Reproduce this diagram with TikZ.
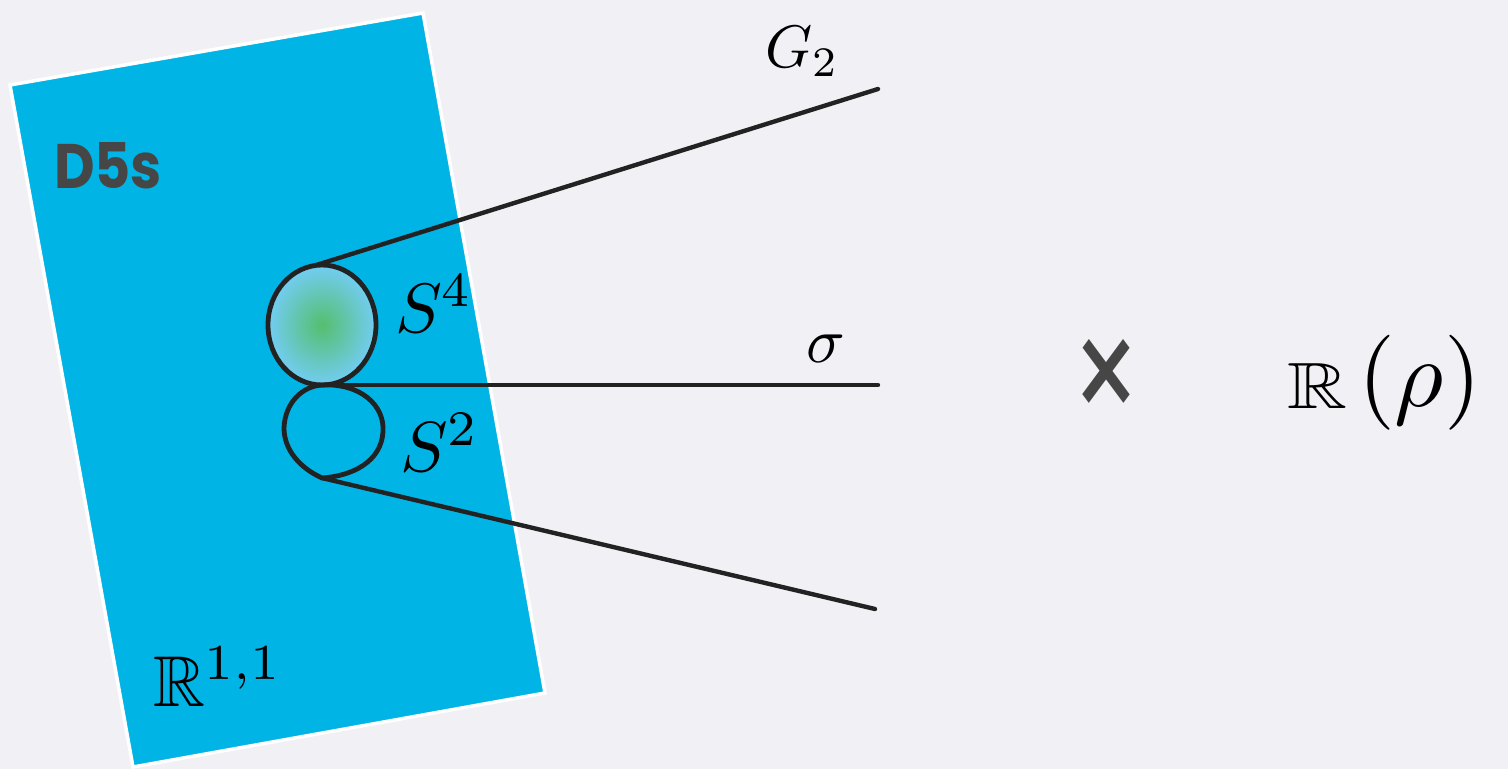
\documentclass[tikz,border=0pt]{standalone}
\usepackage{amssymb}
\usepackage{fontspec}
\newfontfamily\dfont{Poppins}
\definecolor{bg}{HTML}{F1F0F5}
\definecolor{dblue}{HTML}{00B4E6}
\definecolor{ink}{HTML}{222222}
\definecolor{gtext}{HTML}{464646}
\definecolor{sgreen}{HTML}{55BE6E}
\definecolor{sblue}{HTML}{72CDF3}
\tikzset{
  lbl/.style={inner sep=0pt, outer sep=0pt, anchor=base west, text=black},
  conn/.style={draw=ink, line width=4.4pt, line cap=round},
  sphere/.style={draw=ink, line width=4.8pt}
}
\begin{document}
\begin{tikzpicture}[x=1pt,y=-1pt]
\useasboundingbox (0,0) rectangle (1508,769);
\fill[bg] (0,0) rectangle (1508,769);
% D5 brane slab
\filldraw[fill=dblue, draw=white, line width=3.5pt, line join=miter]
  (10,85) -- (423,13) -- (545,693) -- (133,767) -- cycle;
% named points
\coordinate (g2top) at (310,267);
\coordinate (mid) at (322,385);
\coordinate (low) at (322,478);
\coordinate (g2end) at (878,89);
\coordinate (sigend) at (878,385);
\coordinate (lowend) at (875,609);
% connectors
\draw[conn] (g2top) -- (g2end);
\draw[conn] (mid) -- (sigend);
\draw[conn] (low) -- (lowend);
% S4 sphere
\path[inner color=sgreen, outer color=sblue] (322,325) ellipse [x radius=54, y radius=60];
\draw[sphere] (322,325) ellipse [x radius=54, y radius=60];
% S2 sphere
\draw[sphere, line join=round] (mid) .. controls (360,383) and (385,405) .. (383,432)
  .. controls (381,462) and (352,476) .. (low)
  .. controls (300,468) and (284,450) .. (284,428)
  .. controls (285,402) and (303,386) .. (mid) -- cycle;
% labels
\node[lbl] (d5) at (54,188) {\resizebox{108pt}{46pt}{\dfont\bfseries\color{gtext}D5s}};
\node[lbl] (s4) at (395,332) {\scalebox{7}{$S^4$}};
\node[lbl] (s2) at (400,471) {\scalebox{7.1}{$S^2$}};
\node[lbl] (g2) at (765,67) {\scalebox{6}{$G_2$}};
\node[lbl] (sig) at (806,362) {\scalebox{6.4}{$\sigma$}};
\node[lbl] (r11) at (153,706) {\scalebox{7.2}{$\mathbb{R}^{1,1}$}};
\node[inner sep=0pt] (times) at (1106,382) {\resizebox{70pt}{86pt}{\dfont\color{gtext}×}};
\node[lbl] (r) at (1287,408) {\resizebox{60pt}{45pt}{$\mathbb{R}$}};
\node[lbl] (rho) at (1358,406) {\scalebox{9.5}{$(\rho)$}};
\end{tikzpicture}
\end{document}
